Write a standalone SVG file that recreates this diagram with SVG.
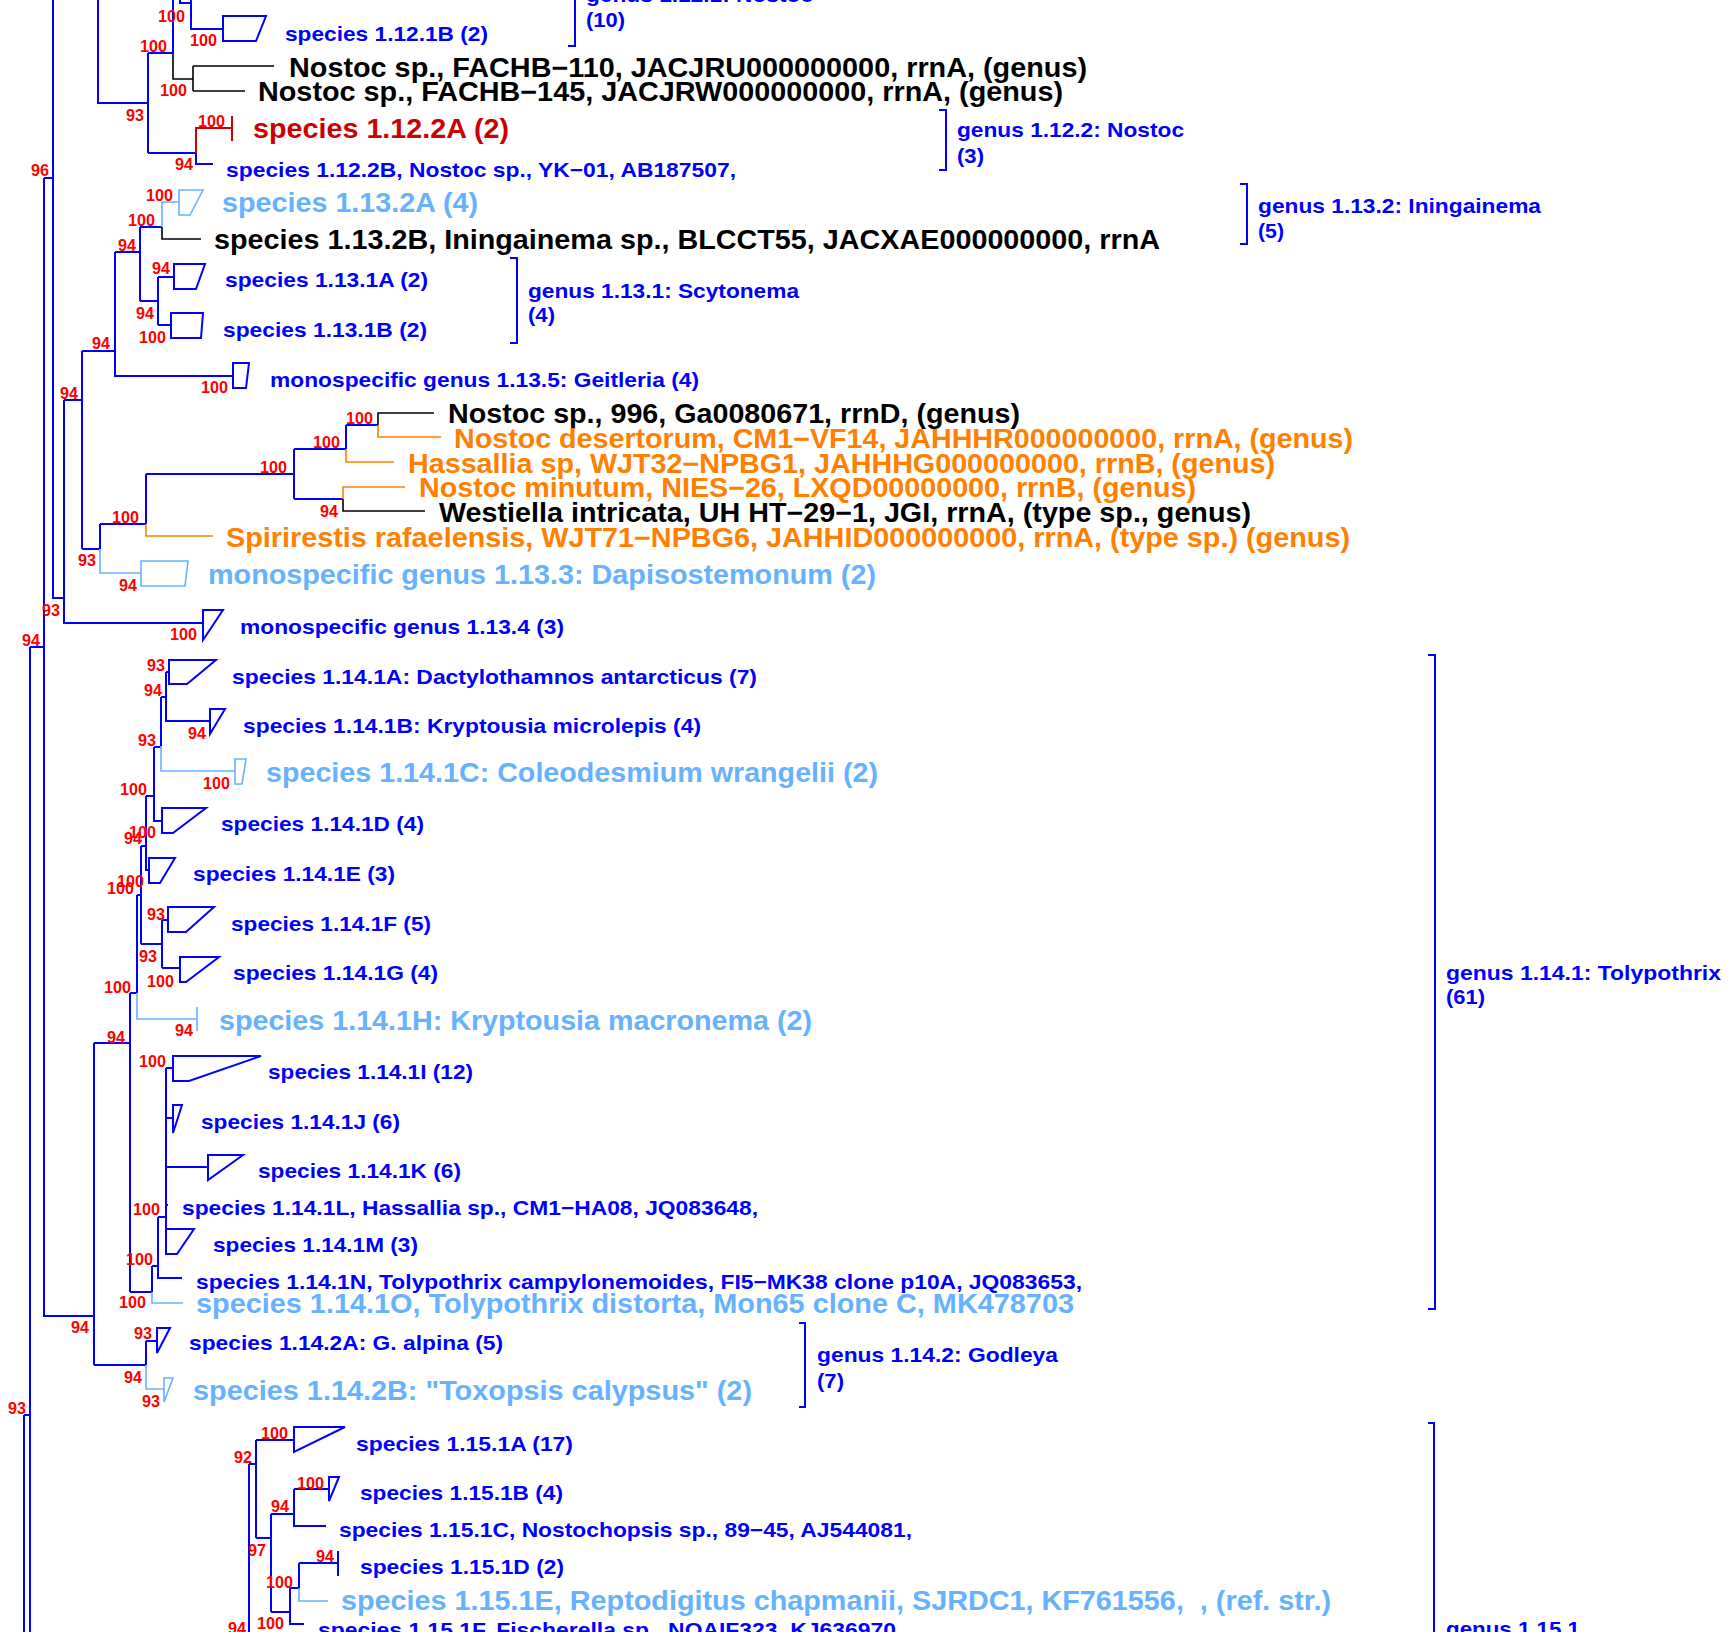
<svg xmlns="http://www.w3.org/2000/svg" width="1728" height="1632" viewBox="0 0 1728 1632">
<style>
text{font-family:"Liberation Sans",Arial,Helvetica,sans-serif;font-weight:bold}
.s{font-size:20.5px}
.l{font-size:27px}
.b{font-size:17px;fill:#FF0000}
.gl{font-size:20.5px;fill:#0000FF}
.cb{fill:#0000FF}
.cl{fill:#66B2FF}
.co{fill:#FF8000}
.ck{fill:#000000}
.cr{fill:#CC0000}
.eb{fill:none;stroke:#0000FF;stroke-width:2}
.el{fill:none;stroke:#66B2FF;stroke-width:1.6}
.eo{fill:none;stroke:#FF8000;stroke-width:1.6}
.ek{fill:none;stroke:#000000;stroke-width:1.6}
.er{fill:none;stroke:#CC0000;stroke-width:2}
.br{fill:none;stroke:#0000FF;stroke-width:2}
</style>
<rect x="0" y="0" width="1728" height="1632" fill="#FFFFFF"/>

<g id="connectors">
<path class="eb" d="M53 0V598H64M44 178H53M44 178V1316H94M98 0V103H148M148 53V153M148 53H173M173 0V53M148 153H196M196 153V164H213"/>
<path class="eb" d="M191 0V29H223M180 0V3H191"/>
<path class="ek" d="M173 53V79H193M193 66V91M193 66H274M193 91H245"/>
<path class="er" d="M196 153V128H232"/>
<path class="eb" d="M115 252H140M140 227V301M140 227H162M140 301H158M158 277V325M158 277H174M158 325H171M115 252V376H233M82 351H115M82 351V549M64 400H82M64 400V623H203M82 549H100M100 524V549M100 524H146M146 474V524M146 474H294M294 449V499M294 449H346M346 425V449M346 425H378M294 499H343"/>
<path class="el" d="M162 227V202H179M100 549V573H141"/>
<path class="ek" d="M162 227V239H201M378 425V413H434M343 499V511H425"/>
<path class="eo" d="M146 524V536H213M346 449V462H394M378 425V437H441M343 499V487H405"/>
<path class="eb" d="M30 647H44M30 647V1632M24 1415H30M24 1415V1632"/>
<path class="eb" d="M94 1043H130M94 1043V1365M130 993V1292M130 993H137M137 895V993M137 895H141M141 846V944M141 846H146M146 796V870H149M146 796H154M154 747V821H162M154 747H161M161 697V746M161 697H166M166 672V721H210M166 672H169M141 944H162M162 920V968M162 920H168M162 968H180"/>
<path class="el" d="M137 993V1019H197M161 746V771H235"/>
<path class="eb" d="M130 1292H152M152 1266V1292M152 1266H158M158 1217V1278H182M158 1217H166M166 1068V1229M166 1068H173M166 1118H173M166 1167H208M166 1205H168"/>
<path class="el" d="M152 1292V1303H183"/>
<path class="eb" d="M94 1365H146M146 1341V1365M146 1341H157"/>
<path class="el" d="M146 1365V1389H164"/>
<path class="eb" d="M249 1464V1632M249 1464H256M256 1440V1538M256 1440H294M256 1538H271M271 1514V1612M271 1514H294M294 1489V1526H326M294 1489H329M271 1612H290M290 1588V1624H304M290 1588H299M299 1563V1588M299 1563H338"/>
<path class="el" d="M299 1588V1601H328"/>
</g>

<g id="support-values">
<text class="b" x="158" y="22" textLength="27" lengthAdjust="spacingAndGlyphs">100</text>
<text class="b" x="190" y="46" textLength="27" lengthAdjust="spacingAndGlyphs">100</text>
<text class="b" x="140" y="52" textLength="27" lengthAdjust="spacingAndGlyphs">100</text>
<text class="b" x="160" y="96" textLength="27" lengthAdjust="spacingAndGlyphs">100</text>
<text class="b" x="126" y="121" textLength="18" lengthAdjust="spacingAndGlyphs">93</text>
<text class="b" x="198" y="127" textLength="27" lengthAdjust="spacingAndGlyphs">100</text>
<text class="b" x="175" y="170" textLength="18" lengthAdjust="spacingAndGlyphs">94</text>
<text class="b" x="31" y="176" textLength="18" lengthAdjust="spacingAndGlyphs">96</text>
<text class="b" x="146" y="201" textLength="27" lengthAdjust="spacingAndGlyphs">100</text>
<text class="b" x="128" y="226" textLength="27" lengthAdjust="spacingAndGlyphs">100</text>
<text class="b" x="118" y="251" textLength="18" lengthAdjust="spacingAndGlyphs">94</text>
<text class="b" x="152" y="274" textLength="18" lengthAdjust="spacingAndGlyphs">94</text>
<text class="b" x="136" y="319" textLength="18" lengthAdjust="spacingAndGlyphs">94</text>
<text class="b" x="139" y="343" textLength="27" lengthAdjust="spacingAndGlyphs">100</text>
<text class="b" x="92" y="349" textLength="18" lengthAdjust="spacingAndGlyphs">94</text>
<text class="b" x="201" y="393" textLength="27" lengthAdjust="spacingAndGlyphs">100</text>
<text class="b" x="60" y="399" textLength="18" lengthAdjust="spacingAndGlyphs">94</text>
<text class="b" x="346" y="424" textLength="27" lengthAdjust="spacingAndGlyphs">100</text>
<text class="b" x="313" y="448" textLength="27" lengthAdjust="spacingAndGlyphs">100</text>
<text class="b" x="260" y="473" textLength="27" lengthAdjust="spacingAndGlyphs">100</text>
<text class="b" x="320" y="517" textLength="18" lengthAdjust="spacingAndGlyphs">94</text>
<text class="b" x="112" y="523" textLength="27" lengthAdjust="spacingAndGlyphs">100</text>
<text class="b" x="78" y="566" textLength="18" lengthAdjust="spacingAndGlyphs">93</text>
<text class="b" x="119" y="591" textLength="18" lengthAdjust="spacingAndGlyphs">94</text>
<text class="b" x="42" y="616" textLength="18" lengthAdjust="spacingAndGlyphs">93</text>
<text class="b" x="170" y="640" textLength="27" lengthAdjust="spacingAndGlyphs">100</text>
<text class="b" x="22" y="646" textLength="18" lengthAdjust="spacingAndGlyphs">94</text>
<text class="b" x="147" y="671" textLength="18" lengthAdjust="spacingAndGlyphs">93</text>
<text class="b" x="144" y="696" textLength="18" lengthAdjust="spacingAndGlyphs">94</text>
<text class="b" x="188" y="739" textLength="18" lengthAdjust="spacingAndGlyphs">94</text>
<text class="b" x="138" y="746" textLength="18" lengthAdjust="spacingAndGlyphs">93</text>
<text class="b" x="203" y="789" textLength="27" lengthAdjust="spacingAndGlyphs">100</text>
<text class="b" x="120" y="795" textLength="27" lengthAdjust="spacingAndGlyphs">100</text>
<text class="b" x="129" y="838" textLength="27" lengthAdjust="spacingAndGlyphs">100</text>
<text class="b" x="124" y="844" textLength="18" lengthAdjust="spacingAndGlyphs">94</text>
<text class="b" x="117" y="887" textLength="27" lengthAdjust="spacingAndGlyphs">100</text>
<text class="b" x="107" y="894" textLength="27" lengthAdjust="spacingAndGlyphs">100</text>
<text class="b" x="147" y="920" textLength="18" lengthAdjust="spacingAndGlyphs">93</text>
<text class="b" x="139" y="962" textLength="18" lengthAdjust="spacingAndGlyphs">93</text>
<text class="b" x="147" y="987" textLength="27" lengthAdjust="spacingAndGlyphs">100</text>
<text class="b" x="104" y="993" textLength="27" lengthAdjust="spacingAndGlyphs">100</text>
<text class="b" x="175" y="1036" textLength="18" lengthAdjust="spacingAndGlyphs">94</text>
<text class="b" x="107" y="1043" textLength="18" lengthAdjust="spacingAndGlyphs">94</text>
<text class="b" x="139" y="1067" textLength="27" lengthAdjust="spacingAndGlyphs">100</text>
<text class="b" x="133" y="1215" textLength="27" lengthAdjust="spacingAndGlyphs">100</text>
<text class="b" x="126" y="1265" textLength="27" lengthAdjust="spacingAndGlyphs">100</text>
<text class="b" x="119" y="1308" textLength="27" lengthAdjust="spacingAndGlyphs">100</text>
<text class="b" x="71" y="1333" textLength="18" lengthAdjust="spacingAndGlyphs">94</text>
<text class="b" x="134" y="1339" textLength="18" lengthAdjust="spacingAndGlyphs">93</text>
<text class="b" x="124" y="1383" textLength="18" lengthAdjust="spacingAndGlyphs">94</text>
<text class="b" x="142" y="1407" textLength="18" lengthAdjust="spacingAndGlyphs">93</text>
<text class="b" x="8" y="1414" textLength="18" lengthAdjust="spacingAndGlyphs">93</text>
<text class="b" x="261" y="1439" textLength="27" lengthAdjust="spacingAndGlyphs">100</text>
<text class="b" x="234" y="1463" textLength="18" lengthAdjust="spacingAndGlyphs">92</text>
<text class="b" x="297" y="1489" textLength="27" lengthAdjust="spacingAndGlyphs">100</text>
<text class="b" x="271" y="1512" textLength="18" lengthAdjust="spacingAndGlyphs">94</text>
<text class="b" x="248" y="1556" textLength="18" lengthAdjust="spacingAndGlyphs">97</text>
<text class="b" x="316" y="1562" textLength="18" lengthAdjust="spacingAndGlyphs">94</text>
<text class="b" x="266" y="1588" textLength="27" lengthAdjust="spacingAndGlyphs">100</text>
<text class="b" x="257" y="1629" textLength="27" lengthAdjust="spacingAndGlyphs">100</text>
<text class="b" x="228" y="1634" textLength="18" lengthAdjust="spacingAndGlyphs">94</text>
</g>

<g id="sp-1.12.1B"><path class="eb" d="M223 16H266L256 41H223Z"/><text class="s cb" x="285" y="41" textLength="203" lengthAdjust="spacingAndGlyphs">species 1.12.1B (2)</text></g>
<g id="tip-FACHB-110"><text class="l ck" x="289" y="77" textLength="798" lengthAdjust="spacingAndGlyphs">Nostoc sp., FACHB−110, JACJRU000000000, rrnA, (genus)</text></g>
<g id="tip-FACHB-145"><text class="l ck" x="258" y="101" textLength="805" lengthAdjust="spacingAndGlyphs">Nostoc sp., FACHB−145, JACJRW000000000, rrnA, (genus)</text></g>
<g id="sp-1.12.2A"><path class="er" d="M232 116V141"/><text class="l cr" x="253" y="138" textLength="256" lengthAdjust="spacingAndGlyphs">species 1.12.2A (2)</text></g>
<g id="sp-1.12.2B"><text class="s cb" x="226" y="177" textLength="510" lengthAdjust="spacingAndGlyphs">species 1.12.2B, Nostoc sp., YK−01, AB187507,</text></g>
<g id="sp-1.13.2A"><path class="el" d="M179 190H203L190 215H179Z"/><text class="l cl" x="222" y="212" textLength="256" lengthAdjust="spacingAndGlyphs">species 1.13.2A (4)</text></g>
<g id="sp-1.13.2B"><text class="l ck" x="214" y="249" textLength="946" lengthAdjust="spacingAndGlyphs">species 1.13.2B, Iningainema sp., BLCCT55, JACXAE000000000, rrnA</text></g>
<g id="sp-1.13.1A"><path class="eb" d="M174 264H205L196 289H174Z"/><text class="s cb" x="225" y="287" textLength="203" lengthAdjust="spacingAndGlyphs">species 1.13.1A (2)</text></g>
<g id="sp-1.13.1B"><path class="eb" d="M171 313H203L201 338H171Z"/><text class="s cb" x="223" y="337" textLength="204" lengthAdjust="spacingAndGlyphs">species 1.13.1B (2)</text></g>
<g id="gen-1.13.5"><path class="eb" d="M233 363H249L246 388H233Z"/><text class="s cb" x="270" y="387" textLength="429" lengthAdjust="spacingAndGlyphs">monospecific genus 1.13.5: Geitleria (4)</text></g>
<g id="tip-996"><text class="l ck" x="448" y="423" textLength="572" lengthAdjust="spacingAndGlyphs">Nostoc sp., 996, Ga0080671, rrnD, (genus)</text></g>
<g id="tip-CM1-VF14"><text class="l co" x="454" y="448" textLength="899" lengthAdjust="spacingAndGlyphs">Nostoc desertorum, CM1−VF14, JAHHHR000000000, rrnA, (genus)</text></g>
<g id="tip-WJT32"><text class="l co" x="408" y="473" textLength="867" lengthAdjust="spacingAndGlyphs">Hassallia sp, WJT32−NPBG1, JAHHHG000000000, rrnB, (genus)</text></g>
<g id="tip-NIES-26"><text class="l co" x="419" y="497" textLength="777" lengthAdjust="spacingAndGlyphs">Nostoc minutum, NIES−26, LXQD00000000, rrnB, (genus)</text></g>
<g id="tip-Westiella"><text class="l ck" x="439" y="522" textLength="812" lengthAdjust="spacingAndGlyphs">Westiella intricata, UH HT−29−1, JGI, rrnA, (type sp., genus)</text></g>
<g id="tip-Spirirestis"><text class="l co" x="226" y="547" textLength="1124" lengthAdjust="spacingAndGlyphs">Spirirestis rafaelensis, WJT71−NPBG6, JAHHID000000000, rrnA, (type sp.) (genus)</text></g>
<g id="gen-1.13.3"><path class="el" d="M141 561H188L185 586H141Z"/><text class="l cl" x="208" y="584" textLength="668" lengthAdjust="spacingAndGlyphs">monospecific genus 1.13.3: Dapisostemonum (2)</text></g>
<g id="gen-1.13.4"><path class="eb" d="M203 610H223L203 640Z"/><text class="s cb" x="240" y="634" textLength="324" lengthAdjust="spacingAndGlyphs">monospecific genus 1.13.4 (3)</text></g>

<g id="sp-1.14.1A"><path class="eb" d="M169 660H216L187 684H169Z"/><text class="s cb" x="232" y="684" textLength="525" lengthAdjust="spacingAndGlyphs">species 1.14.1A: Dactylothamnos antarcticus (7)</text></g>
<g id="sp-1.14.1B"><path class="eb" d="M210 709H225L210 734Z"/><text class="s cb" x="243" y="733" textLength="458" lengthAdjust="spacingAndGlyphs">species 1.14.1B: Kryptousia microlepis (4)</text></g>
<g id="sp-1.14.1C"><path class="el" d="M235 759H246L242 784H235Z"/><text class="l cl" x="266" y="782" textLength="612" lengthAdjust="spacingAndGlyphs">species 1.14.1C: Coleodesmium wrangelii (2)</text></g>
<g id="sp-1.14.1D"><path class="eb" d="M162 808H206L173 833H162Z"/><text class="s cb" x="221" y="831" textLength="203" lengthAdjust="spacingAndGlyphs">species 1.14.1D (4)</text></g>
<g id="sp-1.14.1E"><path class="eb" d="M149 858H175L160 883H149Z"/><text class="s cb" x="193" y="881" textLength="202" lengthAdjust="spacingAndGlyphs">species 1.14.1E (3)</text></g>
<g id="sp-1.14.1F"><path class="eb" d="M168 907H214L186 932H168Z"/><text class="s cb" x="231" y="931" textLength="200" lengthAdjust="spacingAndGlyphs">species 1.14.1F (5)</text></g>
<g id="sp-1.14.1G"><path class="eb" d="M180 957H219L186 982H180Z"/><text class="s cb" x="233" y="980" textLength="205" lengthAdjust="spacingAndGlyphs">species 1.14.1G (4)</text></g>
<g id="sp-1.14.1H"><path class="el" d="M197 1007V1031"/><text class="l cl" x="219" y="1030" textLength="593" lengthAdjust="spacingAndGlyphs">species 1.14.1H: Kryptousia macronema (2)</text></g>
<g id="sp-1.14.1I"><path class="eb" d="M173 1056H261L189 1081H173Z"/><text class="s cb" x="268" y="1079" textLength="205" lengthAdjust="spacingAndGlyphs">species 1.14.1I (12)</text></g>
<g id="sp-1.14.1J"><path class="eb" d="M173 1105H182L173 1133Z"/><text class="s cb" x="201" y="1129" textLength="199" lengthAdjust="spacingAndGlyphs">species 1.14.1J (6)</text></g>
<g id="sp-1.14.1K"><path class="eb" d="M208 1155H243L208 1180Z"/><text class="s cb" x="258" y="1178" textLength="203" lengthAdjust="spacingAndGlyphs">species 1.14.1K (6)</text></g>
<g id="sp-1.14.1L"><text class="s cb" x="182" y="1215" textLength="576" lengthAdjust="spacingAndGlyphs">species 1.14.1L, Hassallia sp., CM1−HA08, JQ083648,</text></g>
<g id="sp-1.14.1M"><path class="eb" d="M166 1229H194L177 1254H166Z"/><text class="s cb" x="213" y="1252" textLength="205" lengthAdjust="spacingAndGlyphs">species 1.14.1M (3)</text></g>
<g id="sp-1.14.1N"><text class="s cb" x="196" y="1289" textLength="886" lengthAdjust="spacingAndGlyphs">species 1.14.1N, Tolypothrix campylonemoides, FI5−MK38 clone p10A, JQ083653,</text></g>
<g id="sp-1.14.1O"><text class="l cl" x="196" y="1313" textLength="878" lengthAdjust="spacingAndGlyphs">species 1.14.1O, Tolypothrix distorta, Mon65 clone C, MK478703</text></g>
<g id="sp-1.14.2A"><path class="eb" d="M157 1328H170L157 1353Z"/><text class="s cb" x="189" y="1350" textLength="314" lengthAdjust="spacingAndGlyphs">species 1.14.2A: G. alpina (5)</text></g>
<g id="sp-1.14.2B"><path class="el" d="M164 1378H173L164 1402Z"/><text class="l cl" x="193" y="1400" textLength="559" lengthAdjust="spacingAndGlyphs">species 1.14.2B: "Toxopsis calypsus" (2)</text></g>

<g id="sp-1.15.1A"><path class="eb" d="M294 1427H345L294 1452Z"/><text class="s cb" x="356" y="1451" textLength="217" lengthAdjust="spacingAndGlyphs">species 1.15.1A (17)</text></g>
<g id="sp-1.15.1B"><path class="eb" d="M329 1477H339L329 1501Z"/><text class="s cb" x="360" y="1500" textLength="203" lengthAdjust="spacingAndGlyphs">species 1.15.1B (4)</text></g>
<g id="sp-1.15.1C"><text class="s cb" x="339" y="1537" textLength="573" lengthAdjust="spacingAndGlyphs">species 1.15.1C, Nostochopsis sp., 89−45, AJ544081,</text></g>
<g id="sp-1.15.1D"><path class="eb" d="M338 1551V1576"/><text class="s cb" x="360" y="1574" textLength="204" lengthAdjust="spacingAndGlyphs">species 1.15.1D (2)</text></g>
<g id="sp-1.15.1E"><text class="l cl" x="341" y="1610" textLength="990" lengthAdjust="spacingAndGlyphs" xml:space="preserve">species 1.15.1E, Reptodigitus chapmanii, SJRDC1, KF761556,  , (ref. str.)</text></g>
<g id="sp-1.15.1F"><text class="s cb" x="318" y="1637" textLength="578" lengthAdjust="spacingAndGlyphs">species 1.15.1F, Fischerella sp., NQAIF323, KJ636970</text></g>

<g id="genus-1.12.1"><path class="br" d="M575 0V46H568"/><text class="gl" x="586" y="2" textLength="227" lengthAdjust="spacingAndGlyphs">genus 1.12.1: Nostoc</text><text class="gl" x="586" y="27" textLength="39" lengthAdjust="spacingAndGlyphs">(10)</text></g>
<g id="genus-1.12.2"><path class="br" d="M939 110H946V170H939"/><text class="gl" x="957" y="137" textLength="227" lengthAdjust="spacingAndGlyphs">genus 1.12.2: Nostoc</text><text class="gl" x="957" y="163" textLength="27" lengthAdjust="spacingAndGlyphs">(3)</text></g>
<g id="genus-1.13.2"><path class="br" d="M1240 184H1247V244H1240"/><text class="gl" x="1258" y="213" textLength="283" lengthAdjust="spacingAndGlyphs">genus 1.13.2: Iningainema</text><text class="gl" x="1258" y="238" textLength="26" lengthAdjust="spacingAndGlyphs">(5)</text></g>
<g id="genus-1.13.1"><path class="br" d="M510 258H517V343H510"/><text class="gl" x="528" y="298" textLength="271" lengthAdjust="spacingAndGlyphs">genus 1.13.1: Scytonema</text><text class="gl" x="528" y="322" textLength="27" lengthAdjust="spacingAndGlyphs">(4)</text></g>
<g id="genus-1.14.1"><path class="br" d="M1428 655H1435V1309H1428"/><text class="gl" x="1446" y="980" textLength="275" lengthAdjust="spacingAndGlyphs">genus 1.14.1: Tolypothrix</text><text class="gl" x="1446" y="1004" textLength="39" lengthAdjust="spacingAndGlyphs">(61)</text></g>
<g id="genus-1.14.2"><path class="br" d="M799 1323H805V1407H799"/><text class="gl" x="817" y="1362" textLength="241" lengthAdjust="spacingAndGlyphs">genus 1.14.2: Godleya</text><text class="gl" x="817" y="1388" textLength="27" lengthAdjust="spacingAndGlyphs">(7)</text></g>
<g id="genus-1.15.1"><path class="br" d="M1428 1423H1434V1632"/><text class="gl" x="1446" y="1636" textLength="134" lengthAdjust="spacingAndGlyphs">genus 1.15.1</text></g>
</svg>
